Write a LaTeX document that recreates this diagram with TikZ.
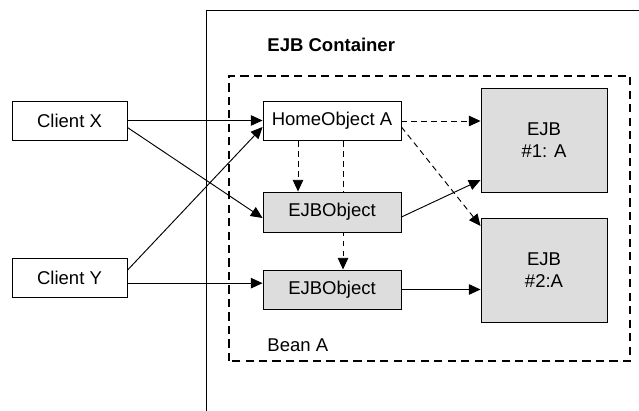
\documentclass[tikz,border=0pt]{standalone}
\usepackage{fontspec}
\setmainfont{Liberation Sans}
\usetikzlibrary{positioning,arrows.meta,backgrounds}
\definecolor{beangray}{RGB}{221,221,221}

\begin{document}
\begin{tikzpicture}[>={Triangle[length=10pt,width=9pt]},
		every node/.style={draw=black,line width=0.8pt,inner sep=0pt,font=\fontsize{15.8}{18.7}\selectfont},
		client/.style={minimum width=3.45cm,minimum height=1.17cm},
		objbox/.style={minimum width=4.14cm,minimum height=1.17cm},
		ejbbox/.style={fill=beangray,minimum width=3.78cm,minimum height=3.12cm,align=center},
		boxtitle/.style={draw=none,anchor=west},
		callarrow/.style={->,line width=0.8pt},
		refarrow/.style={->,line width=0.8pt,dash pattern=on 5pt off 3.5pt}]
		\useasboundingbox (0,0) rectangle (19.17,12.33);

		%container
		\draw[line width=0.8pt] (6.18,-0.5) -- (6.18,12.03) -- (19.5,12.03);
		\node[boxtitle,font=\fontsize{15.8}{18.7}\selectfont\bfseries] (title) at (8.01,10.98) {EJB Container};
		\draw[line width=1.6pt,dash pattern=on 7pt off 4.5pt] (6.87,1.5) rectangle (18.9,10.05);
		\node[boxtitle] (bean) at (8.01,1.98) {Bean A};

		%clients
		\node[client] (cx) at (2.085,8.715) {Client X};
		\node[client] (cy) at (2.085,4.005) {Client Y};

		%objects
		\node[objbox] (ho) at (9.96,8.70) {HomeObject A};
		\node[objbox,fill=beangray,minimum height=1.2cm] (eo1) at (9.96,5.97) {EJBObject};
		\node[objbox,fill=beangray] (eo2) at (9.96,3.645) {EJBObject};

		%beans
		\node[ejbbox] (ejb1) at (16.32,8.13) {EJB\\\#1: A};
		\node[ejbbox] (ejb2) at (16.32,4.23) {EJB\\\#2:A};

		%edges
		\draw[callarrow] (cx.east) -- (cx.east -| ho.west);
		\draw[callarrow] ([yshift=-0.21cm]cx.east) -- ([yshift=-0.18cm]eo1.west);
		\draw[callarrow] ([yshift=0.22cm]cy.east) -- ([yshift=-0.18cm]ho.west);
		\draw[callarrow] ([yshift=-0.17cm]cy.east) -- ([yshift=-0.17cm]cy.east -| eo2.west);
		\draw[refarrow] (ho.east) -- (ho.east -| ejb1.west);
		\draw[refarrow] ([xshift=-1.02cm]ho.south) -- ([xshift=-1.02cm]eo1.north);
		\begin{scope}[on background layer]
			\draw[refarrow] ([xshift=0.33cm]ho.south) -- ([xshift=0.33cm]eo2.north);
		\end{scope}
		\draw[refarrow] ([yshift=-0.18cm]ho.east) -- ([yshift=1.32cm]ejb2.west);
		\draw[callarrow] ([yshift=-0.15cm]eo1.east) -- ([yshift=-1.2cm]ejb1.west);
		\draw[callarrow] (eo2.east) -- (eo2.east -| ejb2.west);
	\end{tikzpicture}
\end{document}
